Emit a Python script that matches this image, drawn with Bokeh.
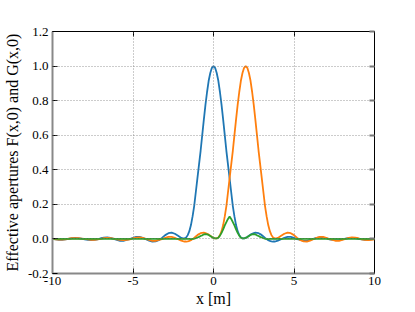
from bokeh.plotting import figure
from bokeh.models import Range1d, FixedTicker, LinearAxis
from bokeh.embed import file_html
from bokeh.resources import INLINE

# ---- data ----
# sample positions: 0.2 m apart in the tails, 0.1 m apart around the main lobes
x_vals = ([round(-10 + 0.2 * i, 1) for i in range(40)]
          + [round(-2 + 0.1 * i, 1) for i in range(61)]
          + [round(4.2 + 0.2 * i, 1) for i in range(30)])

F_vals = [0.0, -0.003, -0.005, -0.005, -0.003, 0.001, 0.005, 0.006, 0.005, 0.002,
          -0.002, -0.006, -0.007, -0.006, -0.002, 0.004, 0.008, 0.009, 0.006, 0.0,
          -0.006, -0.011, -0.011, -0.006, -0.001, 0.006, 0.012, 0.012, 0.006, -0.002,
          -0.01, -0.015, -0.014, -0.007, 0.006, 0.022, 0.033, 0.036, 0.03, 0.018,
          # -2.0 .. 4.0 (step 0.1)
          0.006, 0.003, 0.003, 0.008, 0.022, 0.045, 0.08, 0.13, 0.19, 0.27,
          0.35, 0.43, 0.51, 0.60, 0.69, 0.775, 0.85, 0.915, 0.96, 0.99,
          1.0,
          0.99, 0.96, 0.915, 0.85, 0.775, 0.69, 0.60, 0.51, 0.43, 0.35,
          0.27, 0.19, 0.13, 0.08, 0.045, 0.022, 0.008, 0.003, 0.003, 0.006,
          0.011, 0.018, 0.025, 0.03, 0.034, 0.036, 0.035, 0.033, 0.028, 0.022,
          0.014, 0.006, -0.001, -0.007, -0.011, -0.014, -0.015, -0.015, -0.013, -0.01,
          # 4.2 .. 10 (step 0.2)
          -0.002, 0.006, 0.012, 0.012, 0.006, -0.001, -0.006, -0.011, -0.011, -0.006,
          0.0, 0.006, 0.009, 0.008, 0.004, -0.002, -0.006, -0.007, -0.006, -0.002,
          0.002, 0.005, 0.006, 0.005, 0.001, -0.003, -0.005, -0.005, -0.003, 0.0]

G_vals = [0.0, -0.003, -0.004, -0.004, -0.002, 0.001, 0.004, 0.005, 0.004, 0.002,
          0.0, -0.003, -0.005, -0.005, -0.003, 0.001, 0.005, 0.006, 0.005, 0.002,
          -0.002, -0.006, -0.007, -0.006, -0.002, 0.004, 0.008, 0.009, 0.006, 0.0,
          -0.006, -0.011, -0.011, -0.006, -0.001, 0.006, 0.012, 0.012, 0.006, -0.002,
          # -2.0 .. 4.0 (step 0.1)
          -0.01, -0.013, -0.015, -0.015, -0.014, -0.011, -0.007, -0.001, 0.006, 0.014,
          0.022, 0.028, 0.033, 0.035, 0.036, 0.034, 0.03, 0.025, 0.018, 0.011,
          0.006, 0.003, 0.003, 0.008, 0.022, 0.045, 0.08, 0.13, 0.19, 0.27,
          0.35, 0.43, 0.51, 0.60, 0.69, 0.775, 0.85, 0.915, 0.96, 0.99,
          1.0,
          0.99, 0.96, 0.915, 0.85, 0.775, 0.69, 0.60, 0.51, 0.43, 0.35,
          0.27, 0.19, 0.13, 0.08, 0.045, 0.022, 0.008, 0.003, 0.003, 0.006,
          # 4.2 .. 10 (step 0.2)
          0.018, 0.03, 0.036, 0.033, 0.022, 0.006, -0.007, -0.014, -0.015, -0.01,
          -0.002, 0.006, 0.012, 0.012, 0.006, -0.001, -0.006, -0.011, -0.011, -0.006,
          0.0, 0.006, 0.009, 0.008, 0.004, -0.002, -0.006, -0.007, -0.006, -0.002]

FG_vals = ([0.0] * 40 + [
          # -2.0 .. 4.0 (step 0.1)
          0.0, 0.0, 0.0, 0.0, 0.0, 0.0, -0.001, 0.0, 0.001, 0.004,
          0.008, 0.012, 0.017, 0.021, 0.026, 0.027, 0.026, 0.023, 0.017, 0.011,
          0.006,
          0.003, 0.003, 0.007, 0.019, 0.035, 0.055, 0.078, 0.097, 0.116, 0.13,
          0.116, 0.097, 0.078, 0.055, 0.035, 0.019, 0.007, 0.003, 0.003, 0.006,
          0.011, 0.017, 0.023, 0.026, 0.027, 0.026, 0.021, 0.017, 0.012, 0.008,
          0.004, 0.001, 0.0, -0.001, 0.0, 0.0, 0.0, 0.0, 0.0, 0.0]
          + [0.0] * 30)

assert len(F_vals) == len(x_vals) == len(G_vals) == len(FG_vals)

x_ticks = [-10, -5, 0, 5, 10]
x_tick_labels = ["-10", "-5", "0", "5", "10"]
y_ticks = [-0.2, 0.0, 0.2, 0.4, 0.6, 0.8, 1.0, 1.2]
y_tick_labels = ["-0.2", "0.0", "0.2", "0.4", "0.6", "0.8", "1.0", "1.2"]

x_title = "x [m]"
y_title = "Effective apertures F(x,0) and G(x,0)"

# ---- layout ----
SERIF = "'Liberation Serif', 'Times New Roman', serif"
BL, BR, BT, BB = 52, 36, 31, 34
FW, FH = 322, 242

p = figure(frame_width=FW, frame_height=FH,
           x_range=Range1d(-10, 10), y_range=Range1d(-0.2, 1.2),
           output_backend="svg", toolbar_location=None,
           min_border_left=BL, min_border_right=BR,
           min_border_top=BT, min_border_bottom=BB)
p.background_fill_color = "white"
p.border_fill_color = "white"
p.outline_line_color = "black"
p.outline_line_width = 1

p.line(x_vals, F_vals, line_color="#1f77b4", line_width=1.8)
p.line(x_vals, G_vals, line_color="#ff7f0e", line_width=1.8)
p.line(x_vals, FG_vals, line_color="#2ca02c", line_width=1.8)

# grid (dotted, drawn above lines like the reference)
p.xgrid.ticker = FixedTicker(ticks=x_ticks)
p.ygrid.ticker = FixedTicker(ticks=y_ticks)
for g in (p.xgrid, p.ygrid):
    g.grid_line_color = "#777777"
    g.grid_line_alpha = 0.75
    g.grid_line_width = 1
    g.grid_line_dash = "1 2"
    g.level = "guide"

def style_axis(ax, ticks, labels, line_color, line_width, tick_color, tick_width, show_labels=True):
    ax.ticker = FixedTicker(ticks=ticks)
    ax.axis_line_color = line_color
    ax.axis_line_width = line_width
    ax.major_tick_in = 5
    ax.major_tick_out = 0
    ax.major_tick_line_color = tick_color
    ax.major_tick_line_width = tick_width
    ax.minor_tick_line_color = None
    ax.major_label_text_font = SERIF
    ax.major_label_text_font_size = "13px"
    ax.major_label_text_color = "black"
    ax.major_label_standoff = 4
    ax.axis_label_text_font = SERIF
    ax.axis_label_text_font_size = "16px"
    ax.axis_label_text_font_style = "normal"
    ax.axis_label_text_color = "black"
    if show_labels:
        ax.major_label_overrides = {t: s for t, s in zip(ticks, labels)}
    else:
        ax.major_label_text_alpha = 0
        ax.major_label_overrides = {t: "" for t in ticks}

style_axis(p.xaxis[0], x_ticks, x_tick_labels, "#888888", 2, "black", 1)
style_axis(p.yaxis[0], y_ticks, y_tick_labels, "#888888", 2, "black", 1)
p.xaxis[0].axis_label = x_title
p.xaxis[0].axis_label_standoff = 2
p.xaxis[0].major_label_standoff = 3
p.yaxis[0].axis_label = y_title
p.yaxis[0].axis_label_standoff = 4

top_ax = LinearAxis()
style_axis(top_ax, x_ticks, x_tick_labels, None, 1, "black", 1, show_labels=False)
p.add_layout(top_ax, "above")
right_ax = LinearAxis()
style_axis(right_ax, y_ticks, y_tick_labels, None, 1, "#777777", 2, show_labels=False)
p.add_layout(right_ax, "right")

open("out.html", "w").write(file_html(p, INLINE))
